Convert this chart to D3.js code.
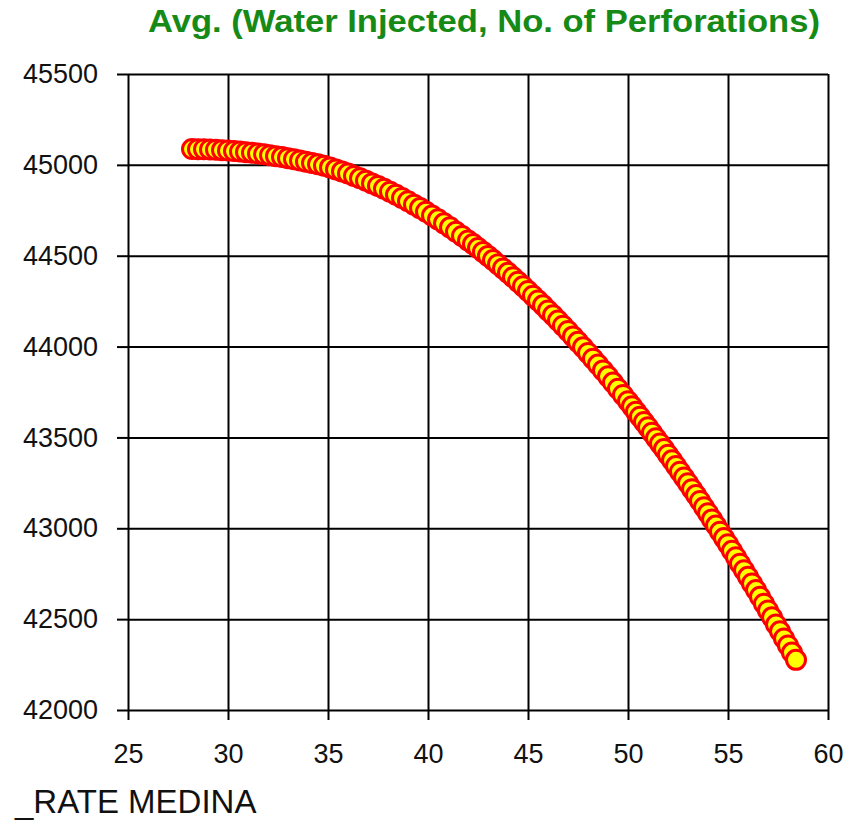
<!DOCTYPE html>
<html>
<head>
<meta charset="utf-8">
<script src="https://cdn.jsdelivr.net/npm/d3@7"></script>
<style>
  body { margin: 0; background: #fff; }
  svg text { font-family: "Liberation Sans", Arial, sans-serif; }
</style>
</head>
<body>
<div id="chart"></div>
<script>
// rate (x) and avg water injected (y)
var rateVals = [28.2, 28.5, 28.8, 29.1, 29.4, 29.7, 30.0, 30.3, 30.6, 30.9, 31.2, 31.5,
  31.8, 32.1, 32.4, 32.7, 33.0, 33.3, 33.6, 33.9, 34.2, 34.5, 34.8, 35.1,
  35.4, 35.7, 36.0, 36.3, 36.6, 36.9, 37.2, 37.5, 37.8, 38.1, 38.4, 38.7,
  39.0, 39.3, 39.6, 39.9, 40.2, 40.5, 40.8, 41.1, 41.4, 41.7, 42.0,
  42.25, 42.5, 42.75, 43.0, 43.25, 43.5, 43.75, 44.0, 44.25, 44.5, 44.75, 45.0,
  45.25, 45.5, 45.75, 46.0, 46.25, 46.5, 46.75, 47.0, 47.25, 47.5, 47.75, 48.0,
  48.25, 48.5, 48.75, 49.0, 49.25, 49.5, 49.75, 50.0,
  50.2, 50.4, 50.6, 50.8, 51.0, 51.2, 51.4, 51.6, 51.8, 52.0, 52.2, 52.4,
  52.6, 52.8, 53.0, 53.2, 53.4, 53.6, 53.8, 54.0, 54.2, 54.4, 54.6, 54.8,
  55.0, 55.2, 55.4, 55.6, 55.8, 56.0, 56.2, 56.4, 56.6, 56.8, 57.0, 57.2,
  57.4, 57.6, 57.8, 58.0, 58.2, 58.4];
var avgVals = [45087, 45086, 45086, 45085, 45083, 45081, 45079, 45076, 45073, 45070, 45067, 45062,
  45058, 45053, 45048, 45043, 45037, 45031, 45024, 45017, 45010, 45003, 44995, 44986,
  44975, 44964, 44952, 44939, 44926, 44913, 44898, 44884, 44868, 44852, 44835, 44818,
  44800, 44781, 44762, 44742, 44721, 44700, 44678, 44656, 44632, 44609, 44584,
  44564, 44542, 44521, 44499, 44476, 44453, 44430, 44406, 44382, 44357, 44332, 44306,
  44280, 44254, 44227, 44199, 44172, 44143, 44115, 44086, 44056, 44026, 43996, 43965,
  43933, 43901, 43869, 43836, 43802, 43768, 43734, 43699,
  43671, 43642, 43614, 43585, 43556, 43526, 43496, 43466, 43436, 43405, 43374, 43343,
  43311, 43280, 43248, 43215, 43183, 43150, 43116, 43083, 43049, 43015, 42981, 42946,
  42912, 42876, 42841, 42805, 42769, 42733, 42696, 42660, 42623, 42585, 42548, 42510,
  42471, 42433, 42394, 42355, 42316, 42276];
var xTicks = [25, 30, 35, 40, 45, 50, 55, 60];
var yTicks = [42000, 42500, 43000, 43500, 44000, 44500, 45000, 45500];

var chartTitle = "Avg. (Water Injected, No. of Perforations)";
var xLabel = "_RATE MEDINA";

var svgwidth = 857, svgheight = 820;
var margin = {top: 74, right: 29, bottom: 110, left: 128},
    width = svgwidth - margin.left - margin.right,
    height = svgheight - margin.top - margin.bottom;

var data = rateVals.map(function(r, i){ return {rate: r, avg: avgVals[i]}; });

var x = d3.scaleLinear().domain([25, 60]).range([0, width]);
var y = d3.scaleLinear().domain([42000, 45500]).range([height, 0]);

var svg = d3.select("#chart").append("svg")
    .attr("width", svgwidth)
    .attr("height", svgheight);

svg.append("text")
    .attr("x", 148)
    .attr("y", 32)
    .attr("textLength", 672)
    .attr("lengthAdjust", "spacingAndGlyphs")
    .style("font-size", "31px")
    .style("font-weight", "bold")
    .style("fill", "#168a16")
    .text(chartTitle);

var g = svg.append("g")
    .attr("transform", "translate(" + margin.left + "," + margin.top + ")");

// grid
g.append("g")
    .attr("class", "grid")
    .call(d3.axisLeft(y).tickValues(yTicks).tickSize(-width).tickFormat(""))
    .call(function(a){ a.select(".domain").remove(); });
g.append("g")
    .attr("class", "grid")
    .attr("transform", "translate(0," + height + ")")
    .call(d3.axisBottom(x).tickValues(xTicks).tickSize(-height).tickFormat(""))
    .call(function(a){ a.select(".domain").remove(); });

// axes with labels
g.append("g")
    .attr("class", "y axis")
    .call(d3.axisLeft(y).tickValues(yTicks).tickSize(11).tickPadding(19).tickFormat(d3.format("d")))
    .call(function(a){ a.select(".domain").remove(); });
g.append("g")
    .attr("class", "x axis")
    .attr("transform", "translate(0," + height + ")")
    .call(d3.axisBottom(x).tickValues(xTicks).tickSize(10).tickPadding(24))
    .call(function(a){ a.select(".domain").remove(); });

g.selectAll(".grid line, .axis line")
    .style("stroke", "#000")
    .style("stroke-width", 2);
g.selectAll(".axis text")
    .style("font-size", "27px")
    .style("fill", "#111");

g.selectAll(".pt")
    .data(data)
  .enter().append("circle")
    .attr("class", "pt")
    .attr("cx", function(d){ return x(d.rate); })
    .attr("cy", function(d){ return y(d.avg); })
    .attr("r", 9.5)
    .style("fill", "#ffff00")
    .style("stroke", "#ff0000")
    .style("stroke-width", 3);

svg.append("text")
    .attr("x", 15)
    .attr("y", 813)
    .style("font-size", "33px")
    .style("fill", "#111")
    .text(xLabel);
</script>
</body>
</html>
